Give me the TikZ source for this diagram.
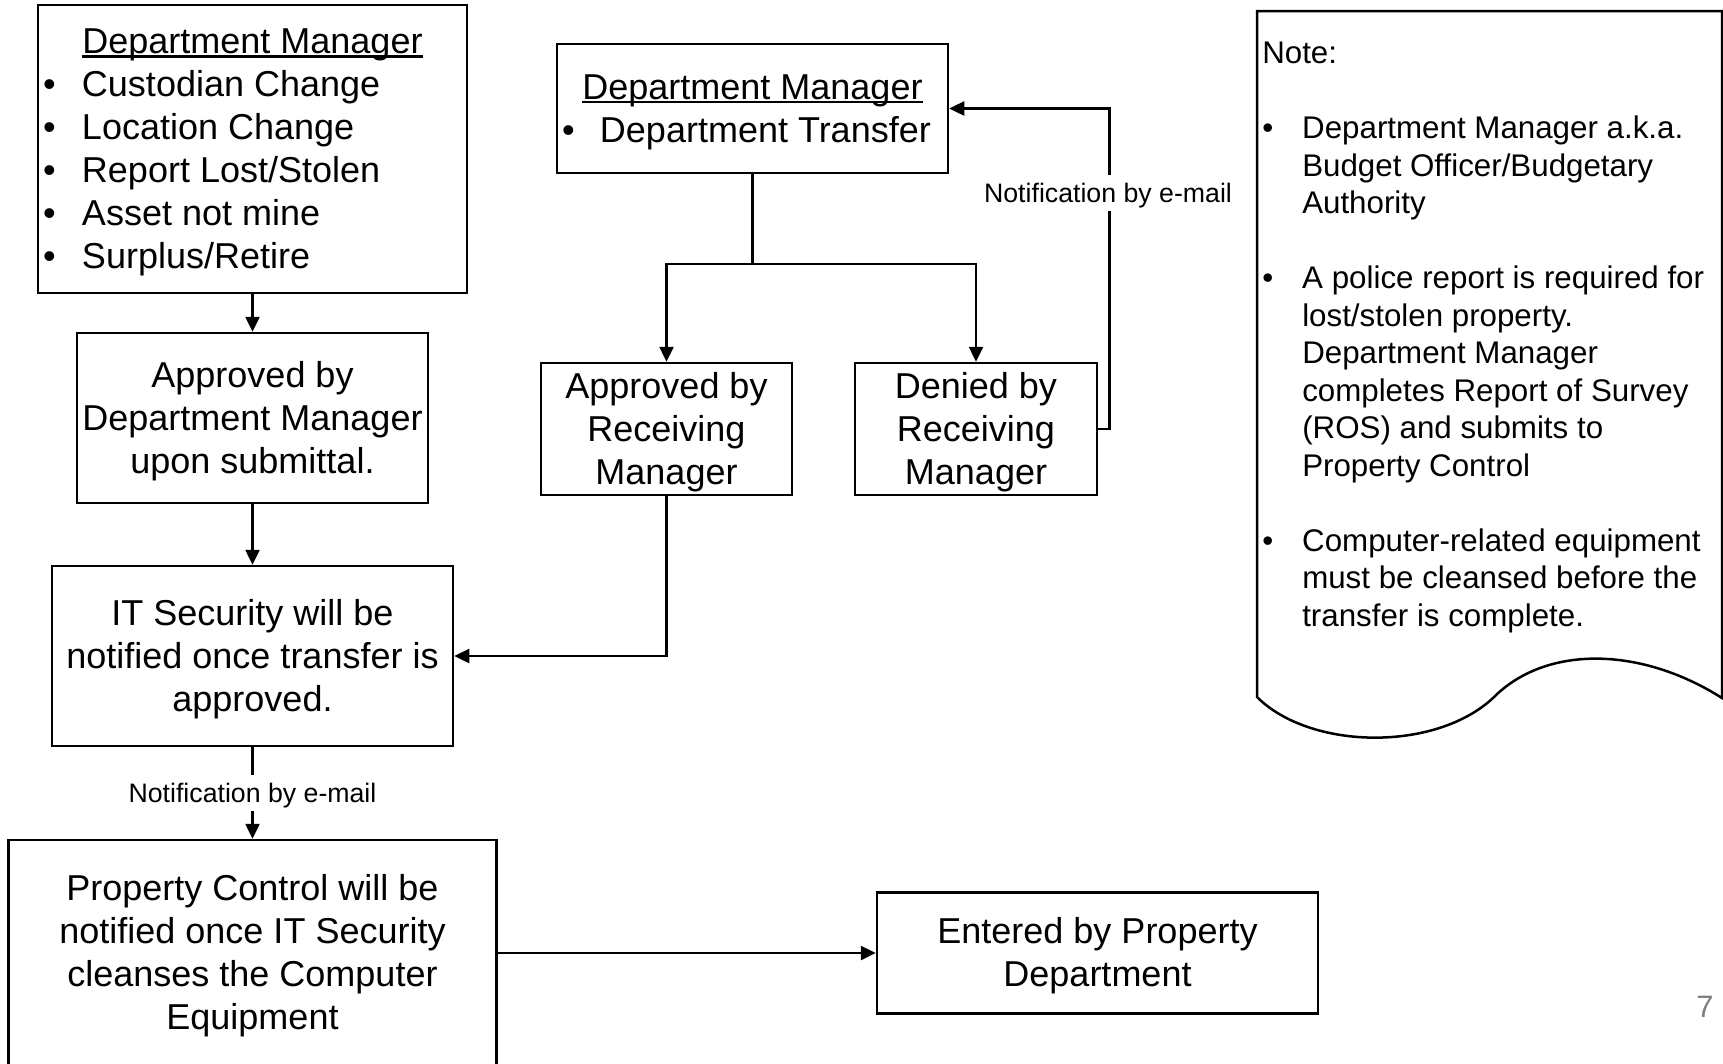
\documentclass[tikz,border=0pt]{standalone}
\usepackage{fontspec}
\setmainfont{Liberation Sans}
\usepackage{tikz}
\usetikzlibrary{arrows.meta,positioning,calc}
\definecolor{pgnum}{RGB}{128,128,128}
\newcommand{\bxfont}{\fontsize{36}{43}\selectfont}
\newcommand{\notefont}{\fontsize{31.3}{37.5}\selectfont}
\newcommand{\lblfont}{\fontsize{26.7}{32}\selectfont}
\newcommand{\bul}[1][39pt]{\makebox[#1][l]{\textbullet}}
\newcommand{\ind}{\hspace*{40pt}}
\newcommand{\vs}{\rule[-0.212em]{0pt}{1.117em}}
\newcommand{\ulin}[1]{\setbox0\hbox{#1}\rlap{\rule[-3.6pt]{\wd0}{2.2pt}}\box0}

\begin{document}
\begin{tikzpicture}[x=1pt, y=-1pt, line width=2.5pt,
  >={Triangle[length=15pt,width=14pt]},
  box/.style={draw, font=\bxfont, align=center, inner sep=0pt},
  lbl/.style={font=\lblfont, fill=white, inner sep=3pt}]
\useasboundingbox (0,0) rectangle (1723,1063);
% left column
\node[box, minimum width=429pt, minimum height=288pt, align=left, inner xsep=5pt] (dm1) at (252.5,149)
  {\vs\makebox[419pt]{\ulin{Department Manager}}\\
   \bul Custodian Change\\
   \bul Location Change\\
   \bul Report Lost/Stolen\\
   \bul Asset not mine\\
   \bul Surplus/Retire\vs};
\node[box, minimum width=351pt, minimum height=170pt] (apv1) at (252.5,418)
  {\vs Approved by\\Department Manager\\upon submittal.\vs};
\node[box, minimum width=401pt, minimum height=180pt] (its) at (252.5,656)
  {\vs IT Security will be\\notified once transfer is\\approved.\vs};
\node[box, minimum width=488pt, minimum height=226pt] (pc) at (252.5,953)
  {\vs Property Control will be\\notified once IT Security\\cleanses the Computer\\Equipment\vs};
\node[box, minimum width=441pt, minimum height=121pt] (pe) at (1097.5,953)
  {\vs Entered by Property\\Department\vs};
% middle column
\node[box, minimum width=391pt, minimum height=129pt, align=left, inner xsep=5pt] (dt) at (752.5,108.5)
  {\vs\makebox[381pt]{\ulin{Department Manager}}\\
   \bul[38pt]Department Transfer\vs};
\node[box, minimum width=251pt, minimum height=132pt] (arm) at (666.5,429)
  {\vs Approved by\\Receiving\\Manager\vs};
\node[box, minimum width=242pt, minimum height=132pt] (drm) at (976,429)
  {\vs Denied by\\Receiving\\Manager\vs};
\coordinate (split) at (752.5,264);
% connectors
\draw[->] (dm1) -- (apv1);
\draw[->] (apv1) -- (its);
\draw[->] (its) -- node[lbl] (n1) {\vs Notification by e-mail} (pc);
\draw[->] (pc) -- (pe);
\draw (dt) -- (split);
\draw[->] (split) -| (arm);
\draw[->] (split) -| (drm);
\draw[->] (drm.east) -- ++(11,0) |- (dt.east);
\node[lbl] (n2) at (1108,193) {\vs Notification by e-mail};
\draw[->] (arm) |- (its);
% note
\draw (1257,11) -- (1722,11) -- (1722,698)
  .. controls (1640,646) and (1545,645) .. (1493,698)
  .. controls (1435,752) and (1310,750) .. (1257,697) -- cycle;
\node[font=\notefont, align=left, anchor=north west, inner sep=0pt] (note) at (1261,41)
  {Note:\\[37.5pt]
   \bul[40pt]Department Manager a.k.a.\\
   \ind Budget Officer/Budgetary\\
   \ind Authority\\[37.5pt]
   \bul[40pt]A police report is required for\\
   \ind lost/stolen property.\\
   \ind Department Manager\\
   \ind completes Report of Survey\\
   \ind (ROS) and submits to\\
   \ind Property Control\\[37.5pt]
   \bul[40pt]Computer-related equipment\\
   \ind must be cleansed before the\\
   \ind transfer is complete.};
\node[font=\fontsize{31}{37}\selectfont, text=pgnum] (pg) at (1705,1007) {7};
\end{tikzpicture}
\end{document}
